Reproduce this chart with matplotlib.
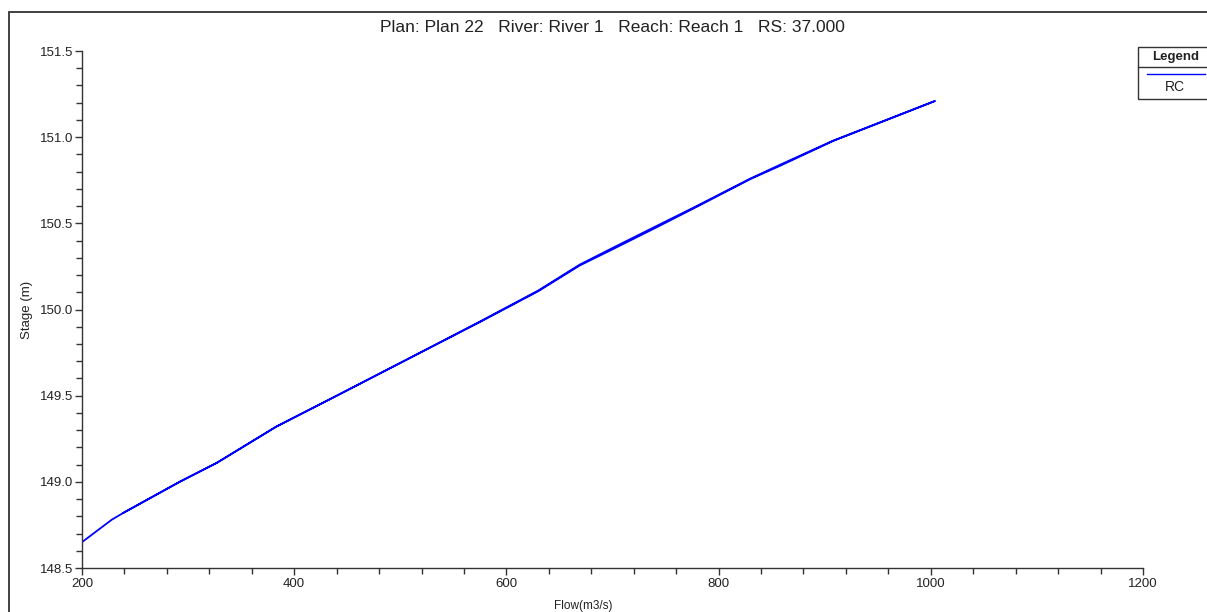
import matplotlib.pyplot as plt
from matplotlib.lines import Line2D
from matplotlib.patches import Rectangle
from matplotlib.ticker import MultipleLocator, FormatStrFormatter

plt.rcParams['font.family'] = ['Liberation Sans', 'DejaVu Sans']

# rising limb then falling limb of the rating curve
flow_up = [200, 228, 239, 292, 327, 383, 437, 500, 575, 630, 669, 701, 740, 776, 830, 858, 908, 1004]
stage_up = [148.65, 148.78, 148.82, 149.00, 149.11, 149.32, 149.49, 149.69, 149.93, 150.11, 150.26, 150.36, 150.48, 150.59, 150.76, 150.84, 150.98, 151.21]
flow_down = [1004, 908, 858, 830, 776, 740, 701, 669, 630, 575, 500, 437, 383, 327, 292, 239]
stage_down = [151.21, 150.978, 150.834, 150.757, 150.585, 150.472, 150.352, 150.255, 150.106, 149.927, 149.69, 149.49, 149.32, 149.11, 149.00, 148.82]

flow = flow_up + flow_down
stage = stage_up + stage_down

title = "Plan: Plan 22   River: River 1   Reach: Reach 1   RS: 37.000"

fig = plt.figure(figsize=(12.07, 6.12), dpi=100)
W, H = 1207, 612
ax = fig.add_axes([82 / W, 1 - 568 / H, (1143 - 82) / W, (568 - 51) / H])

ax.plot(flow, stage, color='#0000FF', lw=1.3)

ax.set_xlim(200, 1200)
ax.set_ylim(148.5, 151.5)
ax.xaxis.set_major_locator(MultipleLocator(200))
ax.xaxis.set_minor_locator(MultipleLocator(40))
ax.yaxis.set_major_locator(MultipleLocator(0.5))
ax.yaxis.set_minor_locator(MultipleLocator(0.1))
ax.yaxis.set_major_formatter(FormatStrFormatter('%.1f'))

for s in ['top', 'right']:
    ax.spines[s].set_visible(False)
for s in ['left', 'bottom']:
    ax.spines[s].set_color('#333333')
    ax.spines[s].set_linewidth(1.0)
ax.tick_params(which='major', direction='out', length=5, width=1, labelsize=9.5, pad=1, colors='#333333', labelcolor='#222222')
ax.tick_params(axis='x', which='major', pad=2)
ax.tick_params(which='minor', direction='out', length=4, width=1, colors='#333333')

fig.text(612 / W, 1 - 28 / H, title, ha='center', va='center', fontsize=12.5, color='#222222')
fig.text(583 / W, 1 - 606 / H, "Flow(m3/s)", ha='center', va='center', fontsize=8.5, color='#222222')
fig.text(27 / W, 1 - 310 / H, "Stage (m)", ha='center', va='center', rotation=90, fontsize=9.5, color='#222222')

# outer frame (right and bottom edges fall outside the image)
fig.add_artist(Rectangle((9 / W, -0.05), 1.1, 1 - 12 / H + 0.05, transform=fig.transFigure,
                         fill=False, edgecolor='#333333', lw=1.3))

# legend box
fig.add_artist(Rectangle((1138 / W, 1 - 99 / H), 0.1, 52 / H, transform=fig.transFigure,
                         fill=False, edgecolor='#333333', lw=1.0))
fig.add_artist(Line2D([1138 / W, 1.0], [1 - 67 / H, 1 - 67 / H], transform=fig.transFigure,
                      color='#333333', lw=1.0))
fig.text(1176 / W, 1 - 57 / H, "Legend", ha='center', va='center', fontsize=9.5, fontweight='bold', color='#222222')
fig.add_artist(Line2D([1147 / W, 1205 / W], [1 - 74 / H, 1 - 74 / H], transform=fig.transFigure,
                      color='#0000FF', lw=1.0))
fig.text(1175 / W, 1 - 87 / H, "RC", ha='center', va='center', fontsize=10, color='#222222')

fig.savefig("out.png", dpi=100)
